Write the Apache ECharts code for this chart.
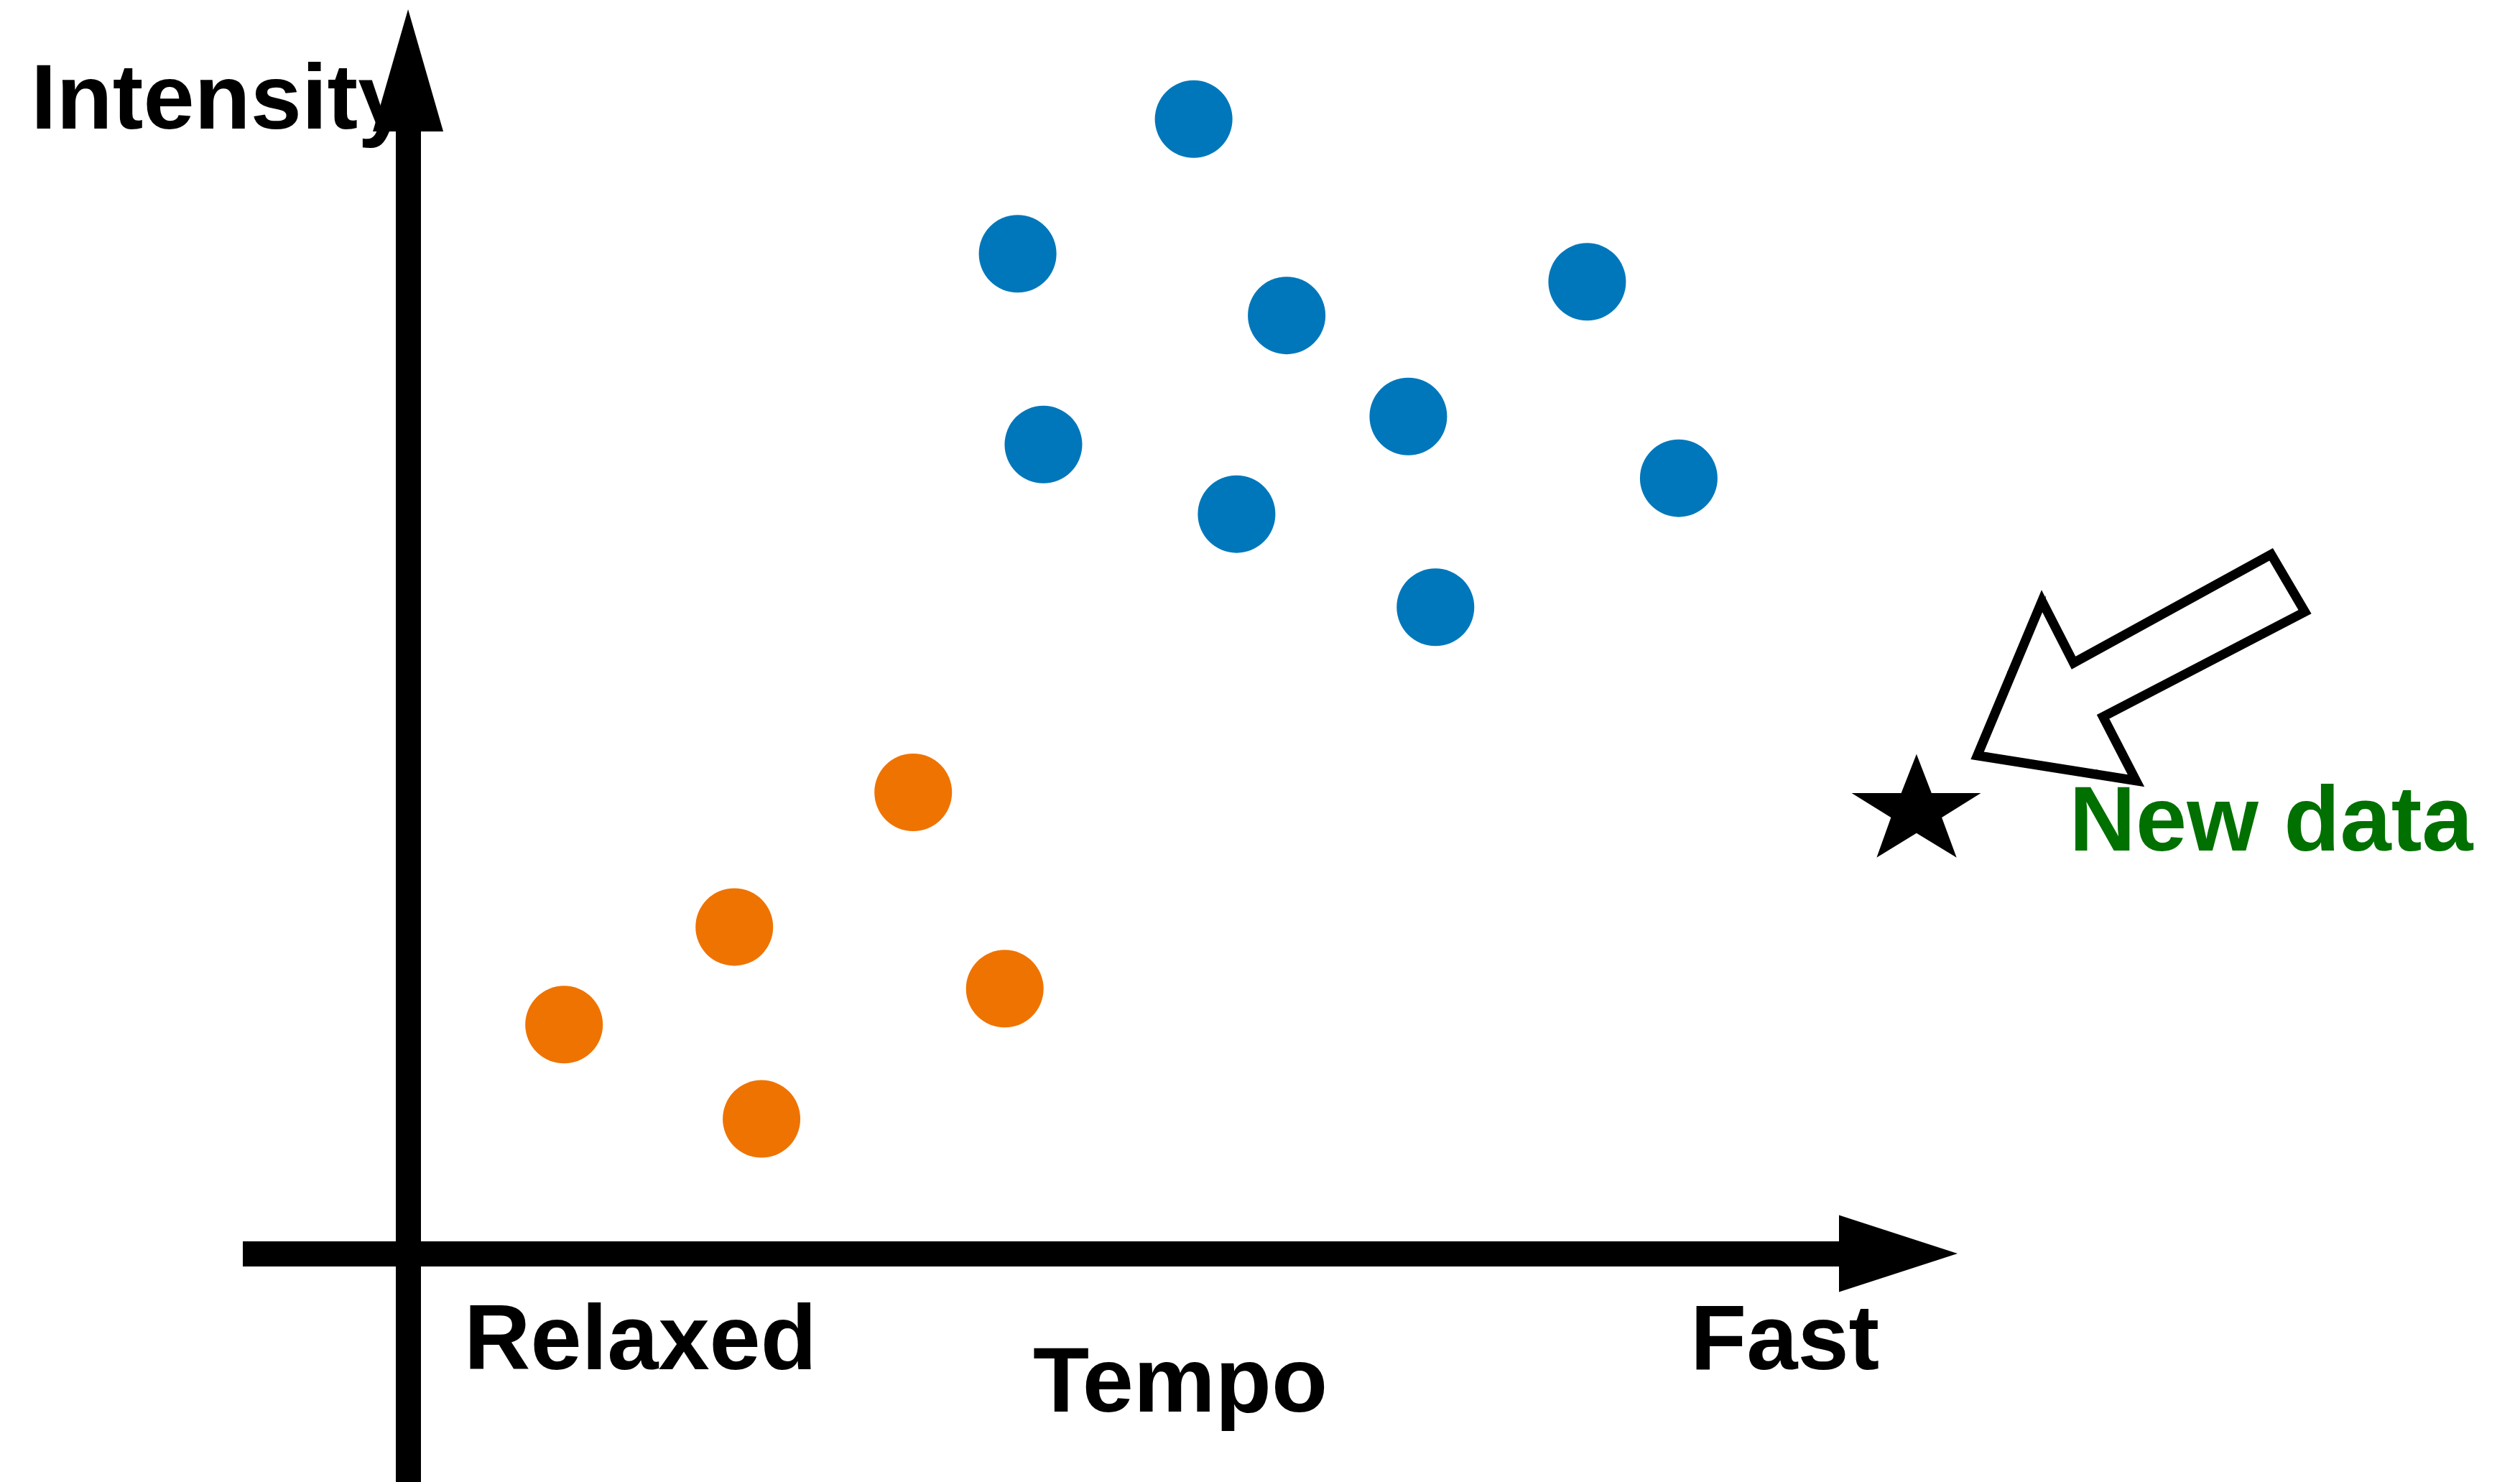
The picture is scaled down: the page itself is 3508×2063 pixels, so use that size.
<!DOCTYPE html>
<html><head><meta charset="utf-8">
<script src="https://cdn.jsdelivr.net/npm/echarts@6/dist/echarts.min.js"></script>
<style>html,body{margin:0;padding:0;background:#fff}#c{width:3508px;height:2063px}</style>
</head><body><div id="c"></div>
<script>
// ---- data ----
const intenseTempo     = [5.49, 4.26, 6.14, 8.24, 6.99, 4.44, 5.79, 8.88, 7.18];
const intenseIntensity = [10.11, 8.91, 8.36, 8.66, 7.46, 7.21, 6.59, 6.91, 5.76];
const relaxedTempo     = [3.53, 2.28, 1.09, 4.17, 2.47];
const relaxedIntensity = [4.11, 2.91, 2.04, 2.36, 1.20];
const newTempo         = [10.54];
const newIntensity     = [3.99];
const axisTitles  = ['Tempo', 'Intensity'];
const tempoLabels = ['Relaxed', 'Fast'];
const newLabel    = 'New data';

const FONT = '"Liberation Sans", Arial, Helvetica, sans-serif';
const pairs = (xs, ys) => xs.map((x, i) => [x, ys[i]]);

const chart = echarts.init(document.getElementById('c'), null, {renderer: 'canvas'});
const STAR = 'path://M322,60L385,223L592,223L428,325L490,492L322,390L155,492L215,325L50,223L258,223Z';

chart.setOption({
  animation: false,
  backgroundColor: '#ffffff',
  grid: {left: 338, right: 948, top: 183, bottom: 0, containLabel: false},
  xAxis: {
    type: 'value', min: -1.155, max: 10, z: 10,
    axisLine: {onZero: true, lineStyle: {color: '#000', width: 35, cap: 'butt'},
      symbol: ['none', 'path://M53.5,0L107,165L0,165Z'], symbolSize: [107, 165], symbolOffset: [0, 82.5]},
    axisTick: {show: false}, axisLabel: {show: false}, splitLine: {show: false}
  },
  yAxis: {
    type: 'value', min: -2.036, max: 10, z: 10,
    axisLine: {onZero: true, lineStyle: {color: '#000', width: 35, cap: 'butt'},
      symbol: ['none', 'path://M49,0L98,170L0,170Z'], symbolSize: [98, 170], symbolOffset: [0, 85]},
    axisTick: {show: false}, axisLabel: {show: false}, splitLine: {show: false}
  },
  series: [
    {type: 'scatter', clip: false, symbolSize: 108, itemStyle: {color: '#0077BB', opacity: 1},
     data: pairs(intenseTempo, intenseIntensity)},
    {type: 'scatter', clip: false, symbolSize: 108, itemStyle: {color: '#EF7300', opacity: 1},
     data: pairs(relaxedTempo, relaxedIntensity)},
    {type: 'scatter', clip: false, symbol: STAR, symbolSize: [180, 144], itemStyle: {color: '#000', opacity: 1},
     label: {show: true, formatter: newLabel, position: 'right', distance: 123, offset: [0, 27],
       color: '#007000', fontSize: 128, fontWeight: 'bold', fontFamily: FONT},
     data: pairs(newTempo, newIntensity)}
  ]
});

// hand-drawn style callout arrow, placed relative to the new data point
const p = chart.convertToPixel({seriesIndex: 2}, [newTempo[0], newIntensity[0]]);
const rel = [[85,-70],[175,-285],[219,-199],[494,-350],[541,-270],[260,-124],[306,-35]];
const base = rel.map(r => [p[0] + r[0], p[1] + r[1]]);
function sketch(seed, amp) {
  const out = [];
  for (let i = 0; i < base.length; i++) {
    const a = base[i], b = base[(i + 1) % base.length];
    const len = Math.hypot(b[0] - a[0], b[1] - a[1]);
    const nx = -(b[1] - a[1]) / len, ny = (b[0] - a[0]) / len;
    const steps = Math.max(2, Math.round(len / 14));
    for (let s = 0; s < steps; s++) {
      const t = s / steps;
      const w = amp * (Math.sin((i * 7 + s) * 2.3 + seed) * 0.6 + Math.sin((i * 3 + s) * 5.1 + seed * 1.7) * 0.4);
      out.push([a[0] + (b[0] - a[0]) * t + nx * w, a[1] + (b[1] - a[1]) * t + ny * w]);
    }
  }
  return out;
}
const txt = (text, x, y, color) => ({type: 'text', x: x, y: y, z: 1,
  style: {text: text, fill: color || '#000', font: 'bold 128px ' + FONT, textAlign: 'left', textVerticalAlign: 'middle'}});

chart.setOption({
  graphic: [
    txt(axisTitles[1], 43, 144),
    txt(tempoLabels[0], 646, 1871),
    txt(axisTitles[0], 1438, 1930),
    txt(tempoLabels[1], 2353, 1871),
    {type: 'polygon', z: 5, shape: {points: base}, style: {fill: 'none', stroke: '#000', lineWidth: 13, lineJoin: 'miter'}},
    {type: 'polygon', z: 5, shape: {points: sketch(1, 4.5)}, style: {fill: 'none', stroke: '#000', lineWidth: 3}},
    {type: 'polygon', z: 5, shape: {points: sketch(4, 5)}, style: {fill: 'none', stroke: '#000', lineWidth: 2}},
    {type: 'polygon', z: 5, shape: {points: sketch(9, 6)}, style: {fill: 'none', stroke: '#000', lineWidth: 1.5}}
  ]
});
</script></body></html>
